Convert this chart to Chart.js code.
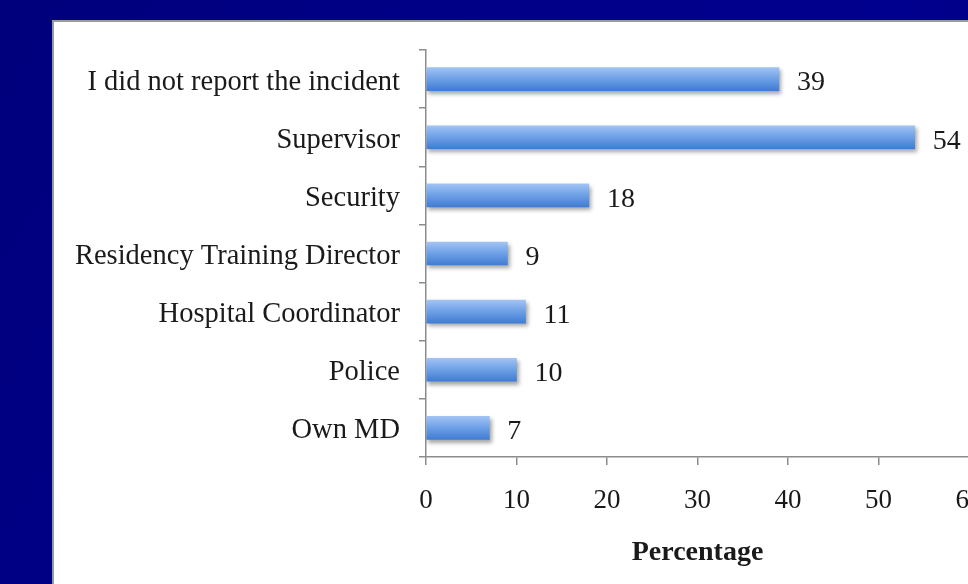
<!DOCTYPE html>
<html>
<head>
<meta charset="utf-8">
<script src="https://cdn.jsdelivr.net/npm/chart.js@4/dist/chart.umd.min.js"></script>
<style>
  html, body { margin: 0; padding: 0; width: 968px; height: 584px; overflow: hidden; }
  body { background: linear-gradient(120deg, #00007c 0%, #00008a 45%, #00008e 70%, #000074 100%); position: relative; }
  #panel { position: absolute; left: 52px; top: 20px; width: 940px; height: 580px; background: #fff; border-left: 2px solid #9a9a9a; border-top: 2px solid #9a9a9a; }
  canvas { position: absolute; left: 0; top: 0; }
</style>
</head>
<body>
<div id="panel"><canvas id="chart" width="938" height="562"></canvas></div>
<script>
const categories = ['I did not report the incident', 'Supervisor', 'Security', 'Residency Training Director', 'Hospital Coordinator', 'Police', 'Own MD']
const percentages = [39, 54, 18, 9, 11, 10, 7]
const xTicks = [0, 10, 20, 30, 40, 50, 60]

const axisGrey = '#8c8c8c'
const textColor = '#1a1a1a'
const serif = 'Liberation Serif'

// gradient for each bar, top light to bottom darker
function barFill(c) {
  const chart = c.chart
  const yScale = chart.scales.y
  if (!yScale || c.dataIndex === undefined) return '#5e93e0'
  const py = yScale.getPixelForValue(c.dataIndex)
  if (!isFinite(py)) return '#5e93e0'
  const g = chart.ctx.createLinearGradient(0, py - 12, 0, py + 12)
  g.addColorStop(0, '#a3c5f4')
  g.addColorStop(0.45, '#72a3e8')
  g.addColorStop(1, '#3e7bd1')
  return g
}

const shadowPlugin = {
  id: 'barShadow',
  beforeDatasetDraw(chart) {
    const ctx = chart.ctx
    ctx.save()
    ctx.shadowColor = 'rgba(0,0,0,0.35)'
    ctx.shadowBlur = 4
    ctx.shadowOffsetX = 2
    ctx.shadowOffsetY = 3
  },
  afterDatasetDraw(chart) {
    chart.ctx.restore()
  }
}

const valueLabels = {
  id: 'valueLabels',
  afterDatasetsDraw(chart) {
    const ctx = chart.ctx
    const meta = chart.getDatasetMeta(0)
    ctx.save()
    ctx.font = '28px "' + serif + '"'
    ctx.fillStyle = textColor
    ctx.textAlign = 'left'
    ctx.textBaseline = 'middle'
    meta.data.forEach(function (bar, i) {
      ctx.fillText(String(percentages[i]), bar.x + 18, bar.y + 4)
    })
    ctx.restore()
  }
}

new Chart(document.getElementById('chart'), {
  type: 'bar',
  data: {
    labels: categories,
    datasets: [{
      data: percentages,
      backgroundColor: barFill,
      borderWidth: 0,
      barThickness: 23
    }]
  },
  options: {
    indexAxis: 'y',
    responsive: false,
    animation: false,
    layout: { padding: { top: 28, right: 23, left: 0, bottom: 0 } },
    plugins: { legend: { display: false }, tooltip: { enabled: false } },
    scales: {
      y: {
        offset: true,
        grid: { offset: true, drawOnChartArea: false, tickLength: 7, color: axisGrey, lineWidth: 1.5 },
        border: { color: axisGrey, width: 1.5 },
        ticks: { padding: 19, labelOffset: 3, color: textColor, font: { family: serif, size: 28.5 } },
        afterFit: function (s) {
          s.width = 372
          s.paddingTop = 0
          s.paddingBottom = 0
        }
      },
      x: {
        min: 0,
        max: 60,
        afterBuildTicks: function (s) { s.ticks = xTicks.map(v => ({ value: v })) },
        grid: { drawOnChartArea: false, tickLength: 8, color: axisGrey, lineWidth: 1.5 },
        border: { color: axisGrey, width: 1.5 },
        ticks: { padding: 20, color: textColor, font: { family: serif, size: 27 } },
        title: {
          display: true,
          text: 'Percentage',
          color: textColor,
          font: { family: serif, size: 28, weight: 'bold' },
          padding: { top: 0, bottom: 14 }
        },
        afterFit: function (s) {
          s.height = 127
          s.paddingLeft = 0
          s.paddingRight = 0
        }
      }
    }
  },
  plugins: [shadowPlugin, valueLabels]
})
</script>
</body>
</html>
